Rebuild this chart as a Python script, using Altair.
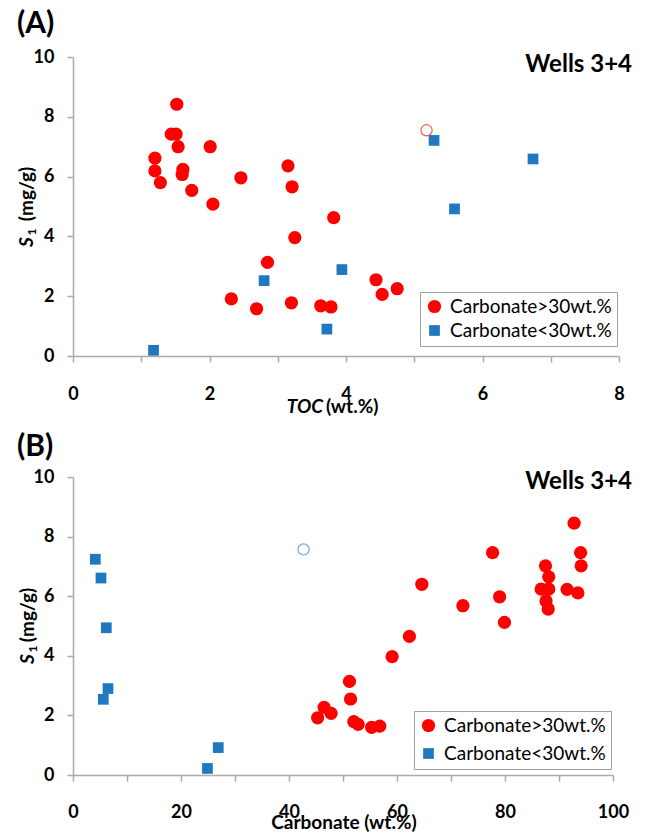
import altair as alt
import pandas as pd

# ---------------- data ----------------
groups = ["Carbonate>30wt.%", "Carbonate<30wt.%"]

# Panel A : TOC (wt.%) vs S1 (mg/g)
toc_hi = [1.52, 1.44, 1.51, 1.54, 2.01, 1.20, 1.20, 1.61, 1.60, 1.28, 1.74, 2.05, 2.46,
          3.15, 3.21, 3.82, 3.25, 2.85, 2.32, 2.69, 3.20, 3.63, 3.78, 4.44, 4.53, 4.75]
s1_hi_a = [8.42, 7.42, 7.42, 7.00, 7.00, 6.62, 6.19, 6.24, 6.07, 5.80, 5.54, 5.08, 5.96,
           6.36, 5.66, 4.63, 3.96, 3.13, 1.91, 1.58, 1.78, 1.68, 1.64, 2.55, 2.06, 2.25]
toc_lo = [1.18, 2.80, 3.72, 3.94, 5.29, 6.74, 5.59]
s1_lo_a = [0.19, 2.52, 0.90, 2.89, 7.21, 6.59, 4.92]
toc_open = [5.18]
s1_open_a = [7.55]

# Panel B : Carbonate (wt.%) vs S1 (mg/g)
carb_hi = [92.8, 77.7, 94.0, 87.5, 94.1, 88.1, 64.6, 86.7, 88.1, 91.5, 93.5, 72.2, 79.0, 87.6,
           88.0, 79.9, 62.3, 59.1, 51.2, 51.4, 46.5, 47.8, 45.3, 52.0, 52.8, 55.3, 56.8]
s1_hi_b = [8.45, 7.46, 7.46, 7.02, 7.02, 6.65, 6.40, 6.24, 6.24, 6.23, 6.11, 5.68, 5.98, 5.84,
           5.57, 5.12, 4.65, 3.97, 3.14, 2.55, 2.27, 2.07, 1.92, 1.79, 1.70, 1.60, 1.64]
carb_lo = [4.13, 5.18, 6.17, 6.48, 5.61, 26.9, 24.9]
s1_lo_b = [7.24, 6.61, 4.94, 2.90, 2.54, 0.92, 0.22]
carb_open = [42.7]
s1_open_b = [7.57]

x_ticks_a = list(range(0, 9))
x_ticks_b = list(range(0, 101, 10))
y_ticks = list(range(0, 11))

panel_a_tag = "(A)"
panel_b_tag = "(B)"
wells_label = "Wells 3+4"
y_title_s = "S"
y_title_sub = "1"
y_title_unit = "(mg/g)"
x_title_a_it = "TOC"
x_title_a_unit = "(wt.%)"
x_title_b = "Carbonate (wt.%)"

# ---------------- style ----------------
FONT = "Lato"
GRAY = "#ABABAB"
RED = "#FF0000"
BLUE = "#1F78C0"


def make_axis(values, step, pad):
    return alt.Axis(
        values=values,
        format="d",
        labelExpr=f"datum.value % {step} === 0 ? datum.label : ''",
        grid=False,
        domainColor=GRAY,
        domainWidth=1.5,
        tickColor=GRAY,
        tickWidth=1.5,
        tickSize=6,
        labelFont=FONT,
        labelFontSize=18,
        labelFontWeight="bold",
        labelColor="black",
        labelPadding=pad,
        labelFlush=False,
        labelOverlap=False,
        title=None,
    )


def make_legend(lx, ly, row_pad):
    return alt.Legend(
        orient="none",
        legendX=lx,
        legendY=ly,
        title=None,
        labelFont=FONT,
        labelFontSize=19,
        labelFontWeight="normal",
        labelColor="black",
        labelLimit=300,
        fillColor="white",
        strokeColor="#A0A0A0",
        padding=5,
        rowPadding=row_pad,
        symbolSize=150,
        symbolStrokeWidth=0,
        labelOffset=6,
    )


def txt(s, x, y, size, weight="bold", style="normal", align="left",
        baseline="alphabetic", angle=0):
    return alt.Chart(pd.DataFrame({"t": [s]})).mark_text(
        align=align, baseline=baseline, font=FONT, fontSize=size,
        fontWeight=weight, fontStyle=style, angle=angle, color="black"
    ).encode(x=alt.value(x), y=alt.value(y), text="t:N")


def panel(xs_hi, ys_hi, xs_lo, ys_lo, xo, yo, xdom, xticks, xstep, xpad,
          lx, ly, row_pad, open_color):
    df = pd.DataFrame({
        "x": xs_hi + xs_lo,
        "y": ys_hi + ys_lo,
        "grp": [groups[0]] * len(xs_hi) + [groups[1]] * len(xs_lo),
    })
    xenc = alt.X("x:Q", scale=alt.Scale(domain=xdom, nice=False, zero=False),
                 axis=make_axis(xticks, xstep, xpad))
    yenc = alt.Y("y:Q", scale=alt.Scale(domain=[0, 10], nice=False),
                 axis=make_axis(y_ticks, 2, 13))
    leg = make_legend(lx, ly, row_pad)
    pts = alt.Chart(df).mark_point(filled=True, opacity=1, strokeWidth=0).encode(
        x=xenc,
        y=yenc,
        color=alt.Color("grp:N", scale=alt.Scale(domain=groups, range=[RED, BLUE]), legend=leg),
        shape=alt.Shape("grp:N", scale=alt.Scale(domain=groups, range=["circle", "square"]), legend=leg),
        size=alt.Size("grp:N", scale=alt.Scale(domain=groups, range=[175, 115]), legend=None),
    )
    dfo = pd.DataFrame({"x": xo, "y": yo})
    opn = alt.Chart(dfo).mark_point(filled=False, shape="circle", size=125,
                                    color=open_color, strokeWidth=1.2, opacity=1).encode(
        x="x:Q", y="y:Q")
    return pts, opn


pts_a, opn_a = panel(toc_hi, s1_hi_a, toc_lo, s1_lo_a, toc_open, s1_open_a,
                     [0, 8], x_ticks_a, 2, 23, 347, 235, 4, "#F05A5A")
chart_a = alt.layer(
    pts_a, opn_a,
    txt(panel_a_tag, -56, -33, 30, baseline="middle"),
    txt(wells_label, 559, 15, 24, align="right"),
    txt(y_title_s, -46, 185, 19, style="italic", align="center", baseline="middle", angle=270),
    txt(y_title_sub, -41, 175, 12, align="center", baseline="middle", angle=270),
    txt(y_title_unit, -46, 137, 19, align="center", baseline="middle", angle=270),
    txt(x_title_a_it, 250, 356, 19, style="italic", align="right"),
    txt(x_title_a_unit, 253, 356, 19, align="left"),
).properties(width=546, height=299)

pts_b, opn_b = panel(carb_hi, s1_hi_b, carb_lo, s1_lo_b, carb_open, s1_open_b,
                     [0, 100], x_ticks_b, 20, 22, 341, 234, 8, "#6FA8DC")
chart_b = alt.layer(
    pts_b, opn_b,
    txt(panel_b_tag, -56, -30, 30, baseline="middle"),
    txt(wells_label, 559, 12, 24, align="right"),
    txt(y_title_s, -45, 182, 19, style="italic", align="center", baseline="middle", angle=270),
    txt(y_title_sub, -40, 172, 12, align="center", baseline="middle", angle=270),
    txt(y_title_unit, -45, 138, 19, align="center", baseline="middle", angle=270),
    txt(x_title_b, 271, 352, 19, align="center"),
).properties(width=540, height=298)

chart = alt.vconcat(chart_a, chart_b, spacing=15).resolve_scale(
    color="independent", shape="independent", size="independent"
).resolve_legend(color="independent", shape="independent", size="independent").configure_view(
    stroke=None
).properties(
    padding={"left": 17, "top": 9, "right": 5, "bottom": 0},
    background="white",
)

chart.save("out.html", embed_options={"renderer": "svg", "actions": False})
